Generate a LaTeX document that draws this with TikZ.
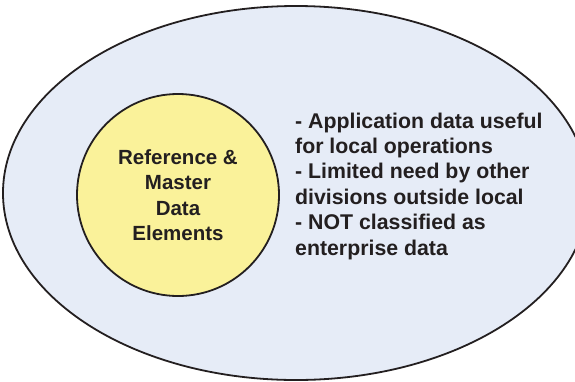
\documentclass[tikz,border=0pt]{standalone}
\usepackage{fontspec}
\setmainfont{Liberation Sans}
\usetikzlibrary{positioning}
\definecolor{outerfill}{HTML}{E6ECF7}
\definecolor{corefill}{HTML}{FAF29A}
\definecolor{inktext}{HTML}{231F20}

\begin{document}
\begin{tikzpicture}[x=1pt, y=-1pt,
  core/.style={circle, draw=inktext, line width=1.8pt, fill=corefill, minimum size=202pt,
    align=center, font=\bfseries\fontsize{20.5}{25.5}\selectfont, text=inktext},
  notes/.style={align=left, font=\bfseries\fontsize{21.3}{25.4}\selectfont, text=inktext, inner sep=0pt}]
\useasboundingbox (0,0) rectangle (575,381);
\clip (0,0) rectangle (575,381);
\coordinate (O) at (296,193);
% outer region
\draw[draw=inktext, line width=1.8pt, fill=outerfill] (O) ellipse [x radius=293, y radius=187];
\node[core] (core) at (178,195) {Reference \&\\Master\\Data\\Elements};
\node[notes, anchor=base west] (notes) at (295,255)
 {- Application data useful\\for local operations\\- Limited need by other\\divisions outside local\\- NOT classified as\\enterprise data};
\end{tikzpicture}
\end{document}
